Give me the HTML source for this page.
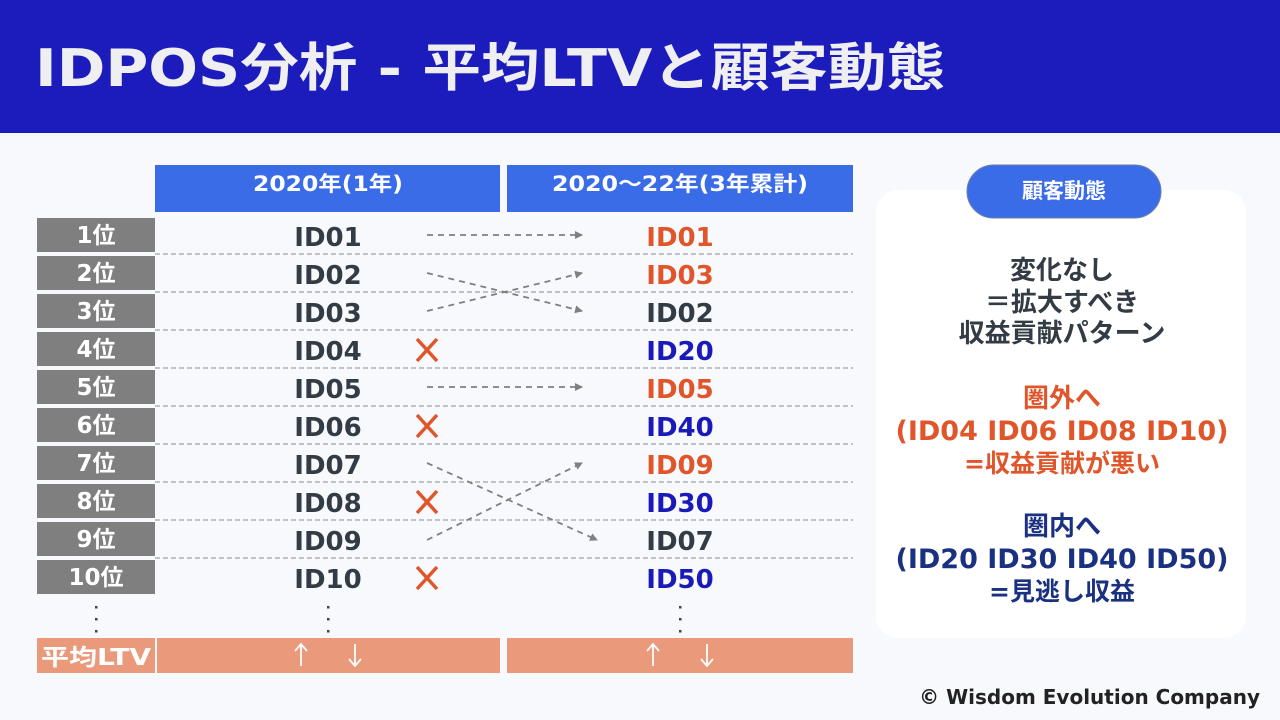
<!DOCTYPE html>
<html><head><meta charset="utf-8"><style>
html,body{margin:0;padding:0;background:#f7f9fd;}
svg{display:block;}
text{font-family:"DejaVu Sans","Noto Sans CJK JP",sans-serif;font-weight:bold;}
</style></head><body>
<svg width="1280" height="720" viewBox="0 0 1280 720" xmlns="http://www.w3.org/2000/svg">
<defs>
<marker id="ah" markerWidth="8" markerHeight="8" refX="7" refY="4" orient="auto" markerUnits="userSpaceOnUse">
<path d="M0,0 L8,4 L0,8 z" fill="#808080"/>
</marker>
</defs>
<rect x="0" y="0" width="1280" height="720" fill="#f7f9fd"/>
<rect x="0" y="0" width="1280" height="133" fill="#1c1cbd"/>
<text x="35" y="86" font-size="52" fill="#efeff2" textLength="910" lengthAdjust="spacingAndGlyphs">IDPOS分析 - 平均LTVと顧客動態</text>

<rect x="155" y="165" width="345" height="47" fill="#3b6ce8"/>
<rect x="507" y="165" width="346" height="47" fill="#3b6ce8"/>
<text x="328" y="191" font-size="21" fill="#fff" text-anchor="middle" textLength="150" lengthAdjust="spacingAndGlyphs">2020年(1年)</text>
<text x="680" y="191" font-size="21" fill="#fff" text-anchor="middle" textLength="256" lengthAdjust="spacingAndGlyphs">2020～22年(3年累計)</text>

<g fill="#7f7f7f">
<rect x="37" y="218" width="118" height="34"/><rect x="37" y="256" width="118" height="34"/>
<rect x="37" y="294" width="118" height="34"/><rect x="37" y="332" width="118" height="34"/>
<rect x="37" y="370" width="118" height="34"/><rect x="37" y="408" width="118" height="34"/>
<rect x="37" y="446" width="118" height="34"/><rect x="37" y="484" width="118" height="34"/>
<rect x="37" y="522" width="118" height="34"/><rect x="37" y="560" width="118" height="34"/>
</g>
<g font-size="23" fill="#fff" text-anchor="middle">
<text x="96" y="243">1位</text><text x="96" y="281">2位</text><text x="96" y="319">3位</text>
<text x="96" y="357">4位</text><text x="96" y="395">5位</text><text x="96" y="433">6位</text>
<text x="96" y="471">7位</text><text x="96" y="509">8位</text><text x="96" y="547">9位</text>
<text x="96" y="585">10位</text>
</g>

<g stroke="#8a8a8a" stroke-width="1" stroke-dasharray="5,3">
<line x1="155" y1="254" x2="853" y2="254"/><line x1="155" y1="292" x2="853" y2="292"/>
<line x1="155" y1="330" x2="853" y2="330"/><line x1="155" y1="368" x2="853" y2="368"/>
<line x1="155" y1="406" x2="853" y2="406"/><line x1="155" y1="444" x2="853" y2="444"/>
<line x1="155" y1="482" x2="853" y2="482"/><line x1="155" y1="520" x2="853" y2="520"/>
<line x1="155" y1="558" x2="853" y2="558"/>
</g>

<g font-size="26" fill="#333c44" text-anchor="middle">
<text x="328" y="246">ID01</text><text x="328" y="284">ID02</text><text x="328" y="322">ID03</text>
<text x="328" y="360">ID04</text><text x="328" y="398">ID05</text><text x="328" y="436">ID06</text>
<text x="328" y="474">ID07</text><text x="328" y="512">ID08</text><text x="328" y="550">ID09</text>
<text x="328" y="588">ID10</text>
</g>
<g font-size="26" text-anchor="middle">
<text x="680" y="246" fill="#e0562a">ID01</text>
<text x="680" y="284" fill="#e0562a">ID03</text>
<text x="680" y="322" fill="#333c44">ID02</text>
<text x="680" y="360" fill="#1a1ab8">ID20</text>
<text x="680" y="398" fill="#e0562a">ID05</text>
<text x="680" y="436" fill="#1a1ab8">ID40</text>
<text x="680" y="474" fill="#e0562a">ID09</text>
<text x="680" y="512" fill="#1a1ab8">ID30</text>
<text x="680" y="550" fill="#333c44">ID07</text>
<text x="680" y="588" fill="#1a1ab8">ID50</text>
</g>

<g stroke="#e0562a" stroke-width="3.5">
<path d="M417,339 L437,361 M437,339 L417,361"/>
<path d="M417,415 L437,437 M437,415 L417,437"/>
<path d="M417,491 L437,513 M437,491 L417,513"/>
<path d="M417,567 L437,589 M437,567 L417,589"/>
</g>

<g stroke="#808080" stroke-width="1.8" stroke-dasharray="6,5" fill="none" marker-end="url(#ah)">
<line x1="427" y1="235" x2="582" y2="235"/>
<line x1="427" y1="273" x2="582" y2="311"/>
<line x1="427" y1="311" x2="582" y2="273"/>
<line x1="427" y1="387" x2="582" y2="387"/>
<line x1="427" y1="463" x2="597" y2="540"/>
<line x1="427" y1="540" x2="582" y2="463"/>
</g>

<g fill="#444">
<rect x="95" y="606" width="2.5" height="2.5"/><rect x="95" y="618" width="2.5" height="2.5"/><rect x="95" y="630" width="2.5" height="2.5"/>
<rect x="327" y="606" width="2.5" height="2.5"/><rect x="327" y="618" width="2.5" height="2.5"/><rect x="327" y="630" width="2.5" height="2.5"/>
<rect x="679" y="606" width="2.5" height="2.5"/><rect x="679" y="618" width="2.5" height="2.5"/><rect x="679" y="630" width="2.5" height="2.5"/>
</g>

<rect x="37" y="638" width="118" height="35" fill="#ea997b"/>
<rect x="157" y="638" width="343" height="35" fill="#ea997b"/>
<rect x="507" y="638" width="346" height="35" fill="#ea997b"/>
<text x="96" y="665" font-size="23" fill="#fff" text-anchor="middle" textLength="110" lengthAdjust="spacingAndGlyphs">平均LTV</text>
<g stroke="#fff" stroke-width="1.8" fill="none">
<path d="M301,666 V645 M295,651 L301,644 L307,651"/>
<path d="M355,644 V665 M349,659 L355,666 L361,659"/>
<path d="M653,666 V645 M647,651 L653,644 L659,651"/>
<path d="M707,644 V665 M701,659 L707,666 L713,659"/>
</g>

<rect x="876" y="190" width="370" height="448" rx="22" fill="#ffffff"/>
<rect x="967" y="165" width="194" height="53" rx="26.5" fill="#3b6ce8" stroke="#6f7fa8" stroke-width="1"/>
<text x="1064" y="198" font-size="21" fill="#fff" text-anchor="middle">顧客動態</text>

<g font-size="26" text-anchor="middle" fill="#333c44">
<text x="1062" y="279">変化なし</text>
<text x="1062" y="311">＝拡大すべき</text>
<text x="1062" y="342">収益貢献パターン</text>
</g>
<g text-anchor="middle" fill="#e0562a">
<text x="1062" y="407" font-size="26">圏外へ</text>
<text x="1062" y="440" font-size="27">(ID04 ID06 ID08 ID10)</text>
<text x="1062" y="472" font-size="25">=収益貢献が悪い</text>
</g>
<g text-anchor="middle" fill="#1a3080">
<text x="1062" y="535" font-size="26">圏内へ</text>
<text x="1062" y="568" font-size="27">(ID20 ID30 ID40 ID50)</text>
<text x="1062" y="600" font-size="25">=見逃し収益</text>
</g>

<text x="1260" y="704" font-size="20" fill="#222" text-anchor="end">© Wisdom Evolution Company</text>
</svg>
</body></html>
